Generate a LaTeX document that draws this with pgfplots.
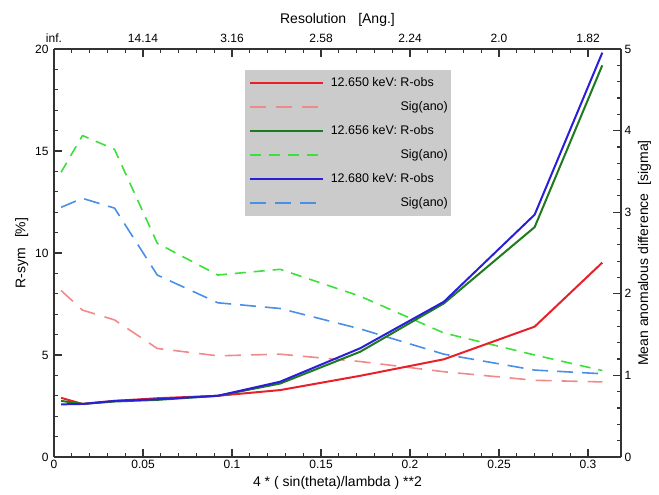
\documentclass[border=0pt]{standalone}
\usepackage{pgfplots}
\pgfplotsset{compat=1.18}
\usepackage{fontspec}
\setmainfont{Liberation Sans}

\definecolor{cRed}{HTML}{E8202A}
\definecolor{cRedL}{HTML}{F08A8A}
\definecolor{cGreen}{HTML}{1E7A1E}
\definecolor{cGreenL}{HTML}{3CE03C}
\definecolor{cBlue}{HTML}{2A1ED8}
\definecolor{cBlueL}{HTML}{4A8FE6}
\definecolor{legbg}{HTML}{CBCBCB}

\pgfplotsset{
  common/.style={
    scale only axis, width=567pt, height=408pt,
    xmin=0, xmax=0.3185,
    tick align=inside,
    major tick length=8pt, minor tick length=4pt,
    every tick/.style={line width=1.2pt, black!80},
    axis line style={line width=1.5pt, black!80},
    tick label style={font=\fontsize{12}{14}\selectfont},
    label style={font=\fontsize{14}{16}\selectfont},
    /pgf/number format/assume math mode=true,
    xtick={0,0.05,0.1,0.15,0.2,0.25,0.3},
    minor x tick num=4, minor y tick num=4,
  },
  solid/.style={line width=2pt, line join=round},
  dash/.style={line width=1.6pt, line join=round},
}

\begin{document}
\begin{tikzpicture}
\useasboundingbox (-54pt,-38pt) rectangle (605pt,457pt);

% right / top axis: anomalous signal
\begin{axis}[common,
  axis x line*=top, axis y line*=right,
  ymin=0, ymax=5, ytick={0,1,2,3,4,5},
  xticklabels={inf.,14.14,3.16,2.58,2.24,2.0,1.82},
  x tick label style={yshift=3pt},
  xlabel={Resolution\hspace{12pt}[Ang.]},
  ylabel={Mean anomalous difference\hspace{8pt}[sigma]},
  legend cell align=right,
  legend image code/.code={\draw[#1] (0pt,0pt) -- (73pt,0pt);},
  legend style={at={(0.337,0.949)}, anchor=north west, fill=legbg, draw=none,
    font=\fontsize{12.5}{14}\selectfont, inner xsep=3.5pt, inner ysep=7pt,
    row sep=12pt, nodes={inner sep=0pt, text height=9pt, text depth=3pt},
    /tikz/column 1/.style={column sep=7pt}},
]
\addlegendimage{solid, cRed}
\addlegendimage{dash, cRedL, dash pattern=on 16pt off 10pt}
\addlegendimage{solid, cGreen}
\addlegendimage{dash, cGreenL, dash pattern=on 11pt off 8pt}
\addlegendimage{solid, cBlue}
\addlegendimage{dash, cBlueL, dash pattern=on 16pt off 9pt}
\legend{12.650 keV: R-obs\hbox to 14pt{}, Sig(ano),
        12.656 keV: R-obs\hbox to 14pt{}, Sig(ano),
        12.680 keV: R-obs\hbox to 14pt{}, Sig(ano)}

\addplot[dash, cRedL, dash pattern=on 16pt off 10pt] coordinates {
  (0.004,2.04) (0.016,1.80) (0.034,1.68) (0.058,1.33) (0.092,1.24)
  (0.127,1.26) (0.172,1.17) (0.219,1.045) (0.270,0.94) (0.308,0.92)};
\addplot[dash, cGreenL, dash pattern=on 11pt off 8pt] coordinates {
  (0.004,3.49) (0.016,3.94) (0.034,3.77) (0.058,2.62) (0.092,2.23)
  (0.127,2.30) (0.172,1.97) (0.219,1.52) (0.270,1.25) (0.308,1.06)};
\addplot[dash, cBlueL, dash pattern=on 16pt off 9pt] coordinates {
  (0.004,3.06) (0.016,3.17) (0.034,3.05) (0.058,2.23) (0.092,1.89)
  (0.127,1.82) (0.172,1.57) (0.219,1.26) (0.270,1.065) (0.308,1.02)};
\end{axis}

% left / bottom axis: R-sym
\begin{axis}[common,
  axis x line*=bottom, axis y line*=left,
  ymin=0, ymax=20, ytick={0,5,10,15,20},
  xticklabels={0,0.05,0.1,0.15,0.2,0.25,0.3},
  y tick label style={xshift=-2pt},
  xlabel={4 * ( sin(theta)/lambda ) **2},
  ylabel={R-sym\hspace{10pt}[\%]},
]
\addplot[solid, cRed] coordinates {
  (0.004,2.90) (0.016,2.60) (0.034,2.75) (0.058,2.88) (0.092,3.00)
  (0.127,3.28) (0.172,3.98) (0.219,4.79) (0.270,6.39) (0.308,9.53)};
\addplot[solid, cGreen] coordinates {
  (0.004,2.75) (0.016,2.60) (0.034,2.72) (0.058,2.80) (0.092,3.00)
  (0.127,3.60) (0.172,5.16) (0.219,7.53) (0.270,11.27) (0.308,19.20)};
\addplot[solid, cBlue] coordinates {
  (0.004,2.58) (0.016,2.60) (0.034,2.75) (0.058,2.83) (0.092,3.00)
  (0.127,3.69) (0.172,5.33) (0.219,7.61) (0.270,11.88) (0.308,19.82)};
\end{axis}
\end{tikzpicture}
\end{document}
